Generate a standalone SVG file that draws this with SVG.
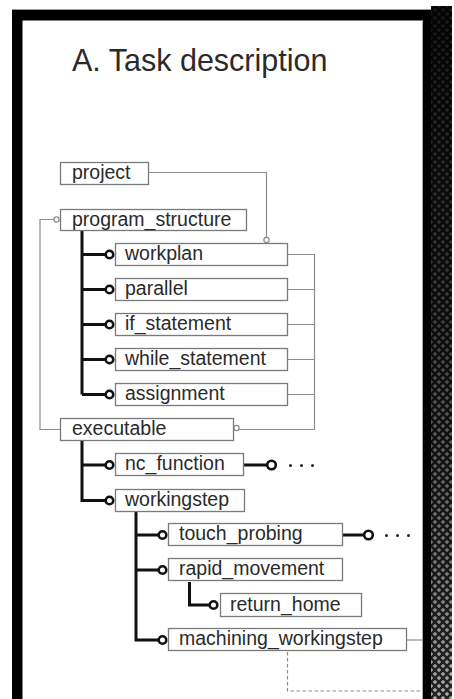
<svg xmlns="http://www.w3.org/2000/svg" width="454" height="699" viewBox="0 0 454 699">
  <defs>
    <style>
      .box { fill: #fff; stroke: #7a7a7a; stroke-width: 1.3; }
      .lbl { font-family: "Liberation Sans", Arial, sans-serif; font-size: 19.5px; fill: #2a2a2a; }
      .thin { fill: none; stroke: #8c8c8c; stroke-width: 1.2; }
      .thick { fill: none; stroke: #111; stroke-width: 3; }
      .ring { fill: #fff; stroke: #111; stroke-width: 2.6; }
      .oring { fill: #fff; stroke: #8c8c8c; stroke-width: 1.2; }
      .dot { fill: #222; }
    </style>
    <pattern id="diamonds" x="431" y="6" width="8" height="8" patternUnits="userSpaceOnUse">
      <polygon points="4,1.7 6.3,4 4,6.3 1.7,4" fill="#d8d8d8"/>
      <polygon points="0,-2.3 2.3,0 0,2.3 -2.3,0" fill="#d8d8d8"/>
      <polygon points="8,-2.3 10.3,0 8,2.3 5.7,0" fill="#d8d8d8"/>
      <polygon points="0,5.7 2.3,8 0,10.3 -2.3,8" fill="#d8d8d8"/>
      <polygon points="8,5.7 10.3,8 8,10.3 5.7,8" fill="#d8d8d8"/>
    </pattern>
    <!-- darkening veil: heavy at the top, fading out toward the bottom -->
    <linearGradient id="veil" gradientUnits="userSpaceOnUse" x1="0" y1="6" x2="0" y2="699">
      <stop offset="0" stop-color="#000" stop-opacity="0.9"/>
      <stop offset="0.45" stop-color="#000" stop-opacity="0.72"/>
      <stop offset="0.8" stop-color="#000" stop-opacity="0.45"/>
      <stop offset="1" stop-color="#000" stop-opacity="0.2"/>
    </linearGradient>
  </defs>

  <rect width="454" height="699" fill="#fff"/>

  <!-- textured strip on the right -->
  <rect x="431" y="6" width="21" height="693" fill="#2a2a2a"/>
  <rect x="431" y="6" width="21" height="693" fill="url(#diamonds)"/>
  <rect x="431" y="6" width="21" height="693" fill="url(#veil)"/>

  <!-- black frame -->
  <rect x="12" y="9" width="419" height="1" fill="#999"/>
  <rect x="12" y="10" width="419" height="10.5" fill="#000"/>
  <rect x="12" y="10" width="10.5" height="689" fill="#000"/>
  <rect x="423" y="10" width="8" height="689" fill="#000"/>
  <rect x="422" y="20" width="1" height="679" fill="#aaa"/>

  <text x="72" y="71" font-family="Liberation Sans, Arial, sans-serif" font-size="30.5" fill="#2a2a2a">A. Task description</text>

  <!-- connectors -->
  <g id="connectors">
    <!-- project to workplan -->
    <path class="thin" d="M148,172.5 H266.5 V237.5"/>
    <circle class="oring" cx="266.5" cy="240" r="2.6"/>
    <!-- program_structure back to executable -->
    <path class="thin" d="M54,219.5 H40 V429.5 H60"/>
    <circle class="oring" cx="56.5" cy="219.5" r="2.6"/>
    <!-- right-hand collector into executable -->
    <path class="thin" d="M288,254.5 H314.5 V429.5 H239"/>
    <path class="thin" d="M288,289.5 H314.5 M288,324.5 H314.5 M288,359.5 H314.5 M288,394.5 H314.5"/>
    <circle class="oring" cx="236.5" cy="428" r="2.6"/>

    <!-- program_structure children -->
    <path class="thick" d="M82,230 V394.5 M82,254.5 H105 M82,289.5 H105 M82,324.5 H105 M82,359.5 H105 M82,394.5 H105"/>
    <circle class="ring" cx="109.5" cy="254.5" r="3.8"/>
    <circle class="ring" cx="109.5" cy="289.5" r="3.8"/>
    <circle class="ring" cx="109.5" cy="324.5" r="3.8"/>
    <circle class="ring" cx="109.5" cy="359.5" r="3.8"/>
    <circle class="ring" cx="109.5" cy="394.5" r="3.8"/>

    <!-- executable children -->
    <path class="thick" d="M82,441 V500.5 H105 M82,465 H105"/>
    <circle class="ring" cx="109.5" cy="465" r="3.8"/>
    <circle class="ring" cx="109.5" cy="500.5" r="3.8"/>

    <!-- nc_function continuation -->
    <path class="thick" d="M244,465 H267"/>
    <circle class="ring" cx="271.5" cy="465" r="4.3"/>
    <circle class="dot" cx="290.5" cy="465.5" r="1.5"/>
    <circle class="dot" cx="301.5" cy="465.5" r="1.5"/>
    <circle class="dot" cx="312.5" cy="465.5" r="1.5"/>

    <!-- workingstep children -->
    <path class="thick" d="M136,512 V640 H158 M136,535 H158 M136,570 H158"/>
    <circle class="ring" cx="162.5" cy="535" r="3.8"/>
    <circle class="ring" cx="162.5" cy="570" r="3.8"/>
    <circle class="ring" cx="162.5" cy="640" r="3.8"/>

    <!-- touch_probing continuation -->
    <path class="thick" d="M343,535 H364"/>
    <circle class="ring" cx="368.5" cy="535" r="4.3"/>
    <circle class="dot" cx="386.5" cy="535.5" r="1.5"/>
    <circle class="dot" cx="397.5" cy="535.5" r="1.5"/>
    <circle class="dot" cx="408.5" cy="535.5" r="1.5"/>

    <!-- rapid_movement child -->
    <path class="thick" d="M189.5,582 V605 H209"/>
    <circle class="ring" cx="213.5" cy="605" r="3.8"/>

    <!-- machining_workingstep outgoing -->
    <path class="thin" d="M407,640 H423"/>
    <path class="thin" stroke-dasharray="3.5,2.5" d="M287.5,652 V691 H423"/>
  </g>

  <!-- nodes -->
  <g id="project"><rect class="box" x="60.5" y="162.5" width="88" height="22"/><text class="lbl" x="72" y="179">project</text></g>
  <g id="program_structure"><rect class="box" x="60.5" y="209.5" width="186" height="21"/><text class="lbl" x="72" y="226">program_structure</text></g>
  <g id="workplan"><rect class="box" x="115.5" y="243.5" width="172" height="22"/><text class="lbl" x="125" y="260">workplan</text></g>
  <g id="parallel"><rect class="box" x="115.5" y="278.5" width="172" height="22"/><text class="lbl" x="125" y="295">parallel</text></g>
  <g id="if_statement"><rect class="box" x="115.5" y="313.5" width="172" height="22"/><text class="lbl" x="125" y="330">if_statement</text></g>
  <g id="while_statement"><rect class="box" x="115.5" y="348.5" width="172" height="22"/><text class="lbl" x="125" y="365">while_statement</text></g>
  <g id="assignment"><rect class="box" x="115.5" y="383.5" width="172" height="22"/><text class="lbl" x="125" y="400">assignment</text></g>
  <g id="executable"><rect class="box" x="60.5" y="418.5" width="173" height="22"/><text class="lbl" x="72" y="435">executable</text></g>
  <g id="nc_function"><rect class="box" x="115.5" y="453.5" width="128" height="22"/><text class="lbl" x="125" y="470">nc_function</text></g>
  <g id="workingstep"><rect class="box" x="115.5" y="489.5" width="129" height="22"/><text class="lbl" x="125" y="506">workingstep</text></g>
  <g id="touch_probing"><rect class="box" x="168.5" y="523.5" width="174" height="22"/><text class="lbl" x="179" y="540">touch_probing</text></g>
  <g id="rapid_movement"><rect class="box" x="168.5" y="558.5" width="174" height="22"/><text class="lbl" x="179" y="575">rapid_movement</text></g>
  <g id="return_home"><rect class="box" x="220.5" y="593.5" width="141" height="23"/><text class="lbl" x="230" y="611">return_home</text></g>
  <g id="machining_workingstep"><rect class="box" x="168.5" y="628.5" width="238" height="22"/><text class="lbl" x="179" y="645">machining_workingstep</text></g>
</svg>
